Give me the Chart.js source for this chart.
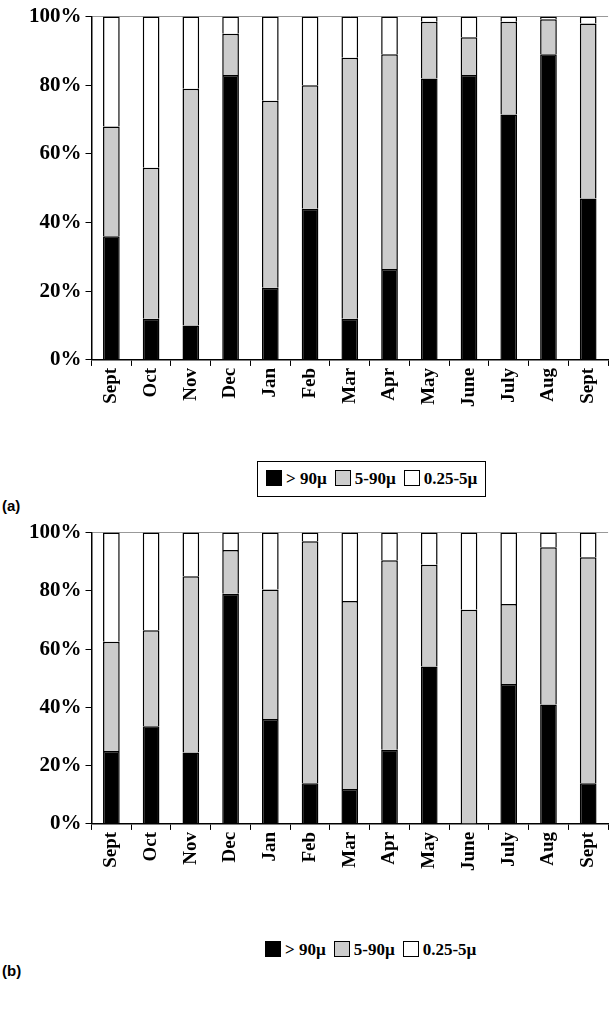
<!DOCTYPE html>
<html>
<head>
<meta charset="utf-8">
<script src="https://cdn.jsdelivr.net/npm/chart.js@4.4.0/dist/chart.umd.min.js"></script>
<style>
  body { margin: 0; background: #fff; width: 613px; height: 1009px; position: relative; font-family: 'Liberation Serif', serif; }
  .wrap { position: absolute; left: 0; width: 613px; }
  .legend { position: absolute; border: 1px solid #000; padding: 7px 8px; font: bold 17px 'Liberation Serif', serif; display: flex; gap: 8px; align-items: center; white-space: nowrap; }
  .legend span.sw { display: inline-block; width: 14px; height: 14px; border: 1px solid #000; vertical-align: -2px; margin-right: 4px; }
  .tag { position: absolute; left: 2px; font: bold 15px 'Liberation Sans', Arial, sans-serif; }
</style>
</head>
<body>
<div class="wrap" style="top:0;height:409px"><canvas id="chartA"></canvas></div>
<div class="legend" style="left:257px;top:461px"><span><span class="sw" style="background:#000"></span>&gt; 90µ</span><span><span class="sw" style="background:#ccc"></span>5-90µ</span><span><span class="sw" style="background:#fff"></span>0.25-5µ</span></div>
<div class="tag" style="top:497px">(a)</div>
<div class="wrap" style="top:516px;height:357px"><canvas id="chartB"></canvas></div>
<div class="legend" style="left:257px;top:933px;border:none"><span><span class="sw" style="background:#000"></span>&gt; 90µ</span><span><span class="sw" style="background:#ccc"></span>5-90µ</span><span><span class="sw" style="background:#fff"></span>0.25-5µ</span></div>
<div class="tag" style="top:962px">(b)</div>
<script>
const months = ['Sept','Oct','Nov','Dec','Jan','Feb','Mar','Apr','May','June','July','Aug','Sept'];
const yTicks = [0, 20, 40, 60, 80, 100];
const seriesNames = ['> 90µ', '5-90µ', '0.25-5µ'];

// panel (a)
const coarseA = [36, 12, 10, 83, 21, 44, 12, 26.5, 82, 83, 71.5, 89, 47];
const mediumA = [32, 44, 69, 12, 54.5, 36, 76, 62.5, 16.5, 11, 27, 10.2, 51];
const fineA   = [32, 44, 21, 5, 24.5, 20, 12, 11, 1.5, 6, 1.5, 0.8, 2];

// panel (b)
const coarseB = [25, 33.5, 24.5, 79, 36, 14, 12, 25.5, 54, 0, 48, 41, 14];
const mediumB = [37.5, 33, 60.5, 15, 44.5, 83, 64.5, 65, 35, 73.5, 27.5, 54, 77.5];
const fineB   = [37.5, 33.5, 15, 6, 19.5, 3, 23.5, 9.5, 11, 26.5, 24.5, 5, 8.5];

const fills = ['#000000', '#cccccc', '#ffffff'];
const serif = { family: 'Liberation Serif', weight: 'bold' };

function makeStack(id, sets) {
  return new Chart(document.getElementById(id), {
    type: 'bar',
    data: {
      labels: months,
      datasets: sets.map((d, i) => ({
        label: seriesNames[i],
        data: d,
        backgroundColor: fills[i],
        borderColor: '#000',
        borderWidth: 1.5,
        barPercentage: 0.42,
        categoryPercentage: 1,
      })),
    },
    options: {
      responsive: true, maintainAspectRatio: false, animation: false,
      layout: { padding: { top: 4, right: 0, left: 25 } },
      plugins: { legend: { display: false }, tooltip: { enabled: false } },
      scales: {
        x: {
          stacked: true,
          grid: { display: true, offset: true, drawOnChartArea: false, color: '#000', tickLength: 6 },
          border: { color: '#000', width: 1.5 },
          ticks: { color: '#000', font: { ...serif, size: 19 }, maxRotation: 90, minRotation: 90, padding: 2 },
        },
        y: {
          stacked: true, min: 0, max: 100,
          afterBuildTicks: ax => { ax.ticks = yTicks.map(v => ({ value: v })); },
          grid: { color: ctx => ctx.tick && ctx.tick.value === 100 ? '#999' : 'transparent', tickColor: '#000', tickLength: 6 },
          border: { color: '#000', width: 1.5 },
          ticks: { color: '#000', font: { ...serif, size: 21 }, padding: 4, callback: v => v + '%' },
        },
      },
    },
  });
}

makeStack('chartA', [coarseA, mediumA, fineA]);
makeStack('chartB', [coarseB, mediumB, fineB]);
</script>
</body>
</html>
